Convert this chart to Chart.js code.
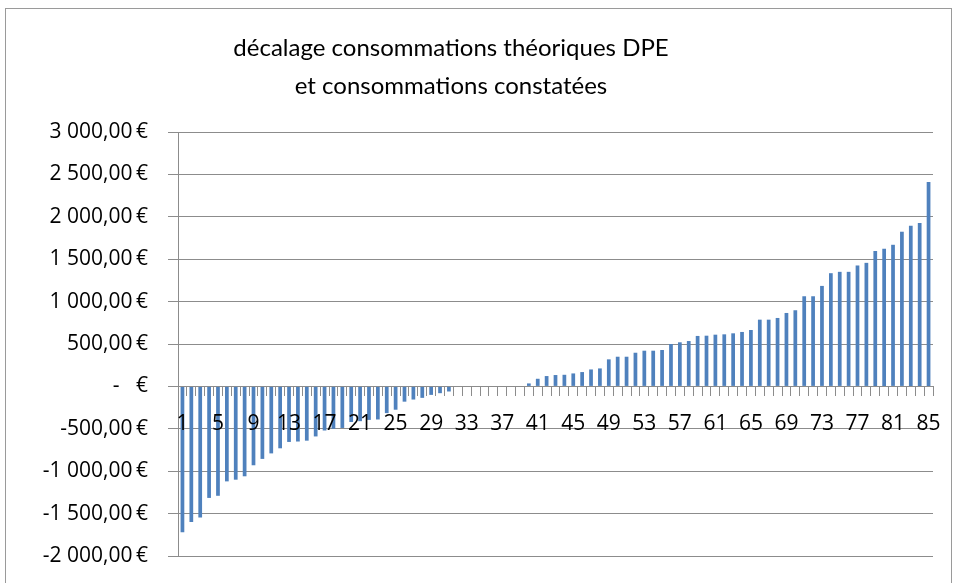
<!DOCTYPE html>
<html lang="fr">
<head>
<meta charset="UTF-8">
<title>décalage consommations théoriques DPE et consommations constatées</title>
<script src="https://cdn.jsdelivr.net/npm/chart.js"></script>
<style>
    body { margin: 0; background: #fff; }
    .wrap { position: relative; width: 957px; height: 583px; }
</style>
</head>
<body>
<div class="wrap"><canvas id="ecartChart" width="957" height="583"></canvas></div>
<script>
// logements 1 à 85, triés par écart (€)
const logements = Array.from({ length: 85 }, (_, i) => String(i + 1));
const ecarts = [
    -1720, -1600, -1545, -1315, -1290, -1120, -1100, -1060, -930, -855,
    -790, -730, -655, -650, -640, -590, -520, -500, -490, -420,
    -410, -395, -390, -315, -275, -180, -155, -135, -100, -80,
    -60, 0, 0, 0, 0, 0, 0, 0, 0, 35,
    90, 122, 134, 137, 153, 169, 200, 212, 319, 350,
    350, 397, 421, 421, 429, 500, 520, 535, 595, 598,
    610, 614, 626, 642, 665, 787, 787, 807, 866, 898,
    1063, 1063, 1185, 1335, 1351, 1351, 1426, 1457, 1596, 1623,
    1670, 1824, 1895, 1927, 2411
];
const titre = ['décalage consommations théoriques DPE', 'et consommations constatées'];
const yMin = -2000, yMax = 3000, yPas = 500;

function formatEuro(v) {
    if (v === 0) return '-   €';
    const abs = Math.abs(v).toFixed(2).replace('.', ',').replace(/\B(?=(\d{3})+(?!\d))/g, ' ');
    return (v < 0 ? '-' : '') + abs + '\u2009€';
}

// cadre + titre (centré comme dans Excel, pas sur le canvas)
const cadreTitre = {
    id: 'cadreTitre',
    afterDraw(chart) {
        const ctx = chart.ctx;
        ctx.save();
        ctx.strokeStyle = '#9a9a9a';
        ctx.lineWidth = 1;
        ctx.strokeRect(5.5, 8.5, 946, 620);
        ctx.fillStyle = '#000';
        ctx.font = '24px Lato';
        ctx.textAlign = 'center';
        ctx.textBaseline = 'middle';
        ctx.fillText(titre[0], 451, 48);
        ctx.fillText(titre[1], 451, 86);
        ctx.restore();
    }
};

new Chart(document.getElementById('ecartChart'), {
    type: 'bar',
    data: {
        labels: logements,
        datasets: [{
            data: ecarts,
            backgroundColor: '#4f81bd',
            barPercentage: 0.42,
            categoryPercentage: 1
        }]
    },
    options: {
        responsive: false,
        animation: false,
        layout: { padding: { top: 132, right: 24, bottom: 27, left: 0 } },
        plugins: { legend: { display: false }, title: { display: false }, tooltip: { enabled: false } },
        scales: {
            x: {
                position: { y: 0 },
                afterFit: s => { s.height = 0; s.paddingLeft = 0; s.paddingRight = 0; },
                grid: { drawOnChartArea: false, color: '#8c8c8c', tickLength: 9 },
                border: { color: '#8c8c8c' },
                ticks: {
                    z: 1,
                    autoSkip: false,
                    maxRotation: 0,
                    padding: 16,
                    color: '#000',
                    font: { family: 'Open Sans', size: 21 },
                    callback: (v, i) => (i % 4 === 0 ? logements[i] : '')
                }
            },
            y: {
                min: yMin,
                max: yMax,
                afterFit: s => { s.width = 178; s.paddingTop = 0; s.paddingBottom = 0; },
                grid: { color: '#8c8c8c', tickLength: 10 },
                border: { color: '#8c8c8c' },
                ticks: {
                    stepSize: yPas,
                    padding: 20,
                    color: '#000',
                    font: { family: 'Open Sans', size: 21 },
                    callback: v => formatEuro(v)
                }
            }
        }
    },
    plugins: [cadreTitre]
});
</script>
</body>
</html>
